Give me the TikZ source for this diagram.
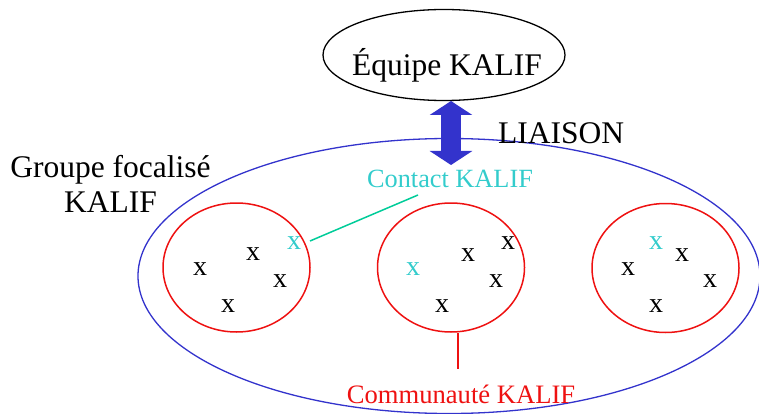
\documentclass[tikz,border=0pt]{standalone}
\usepackage{fontspec}
\setmainfont{Liberation Serif}
\usetikzlibrary{arrows.meta,shapes.geometric}
\definecolor{arrowblue}{HTML}{3333CC}
\definecolor{contactcyan}{HTML}{33CCCC}
\definecolor{linegreen}{HTML}{00CC99}
\definecolor{commred}{HTML}{EE1111}
\tikzset{
  member/.style={font=\fontsize{28}{28}\selectfont, inner sep=0pt},
  contactx/.style={member, text=contactcyan},
  community/.style={draw=commred, line width=1.5pt, ellipse, minimum width=147pt, minimum height=129pt, inner sep=0pt},
  bigtext/.style={font=\fontsize{31.5}{35}\selectfont, inner sep=0pt}
}
\begin{document}
\begin{tikzpicture}[x=1pt,y=-1pt]
\useasboundingbox (0,0) rectangle (759,414);
% focus group ellipse
\node[draw=arrowblue, line width=1.3pt, ellipse, minimum width=622pt, minimum height=275pt, inner sep=0pt] (group) at (449,276) {};
% team
\node[draw, line width=1.3pt, ellipse, minimum width=242pt, minimum height=91pt, inner sep=0pt] (team) at (444,55) {};
\node[bigtext, anchor=base] (teamlbl) at (447,76) {Équipe KALIF};
% liaison arrow
\coordinate (liaisonend) at (451,165);
\coordinate (liaisonstart) at (451,101);
\draw[arrowblue, line width=20pt, {Triangle[width=42pt,length=14pt]}-{Triangle[width=42pt,length=14pt]}] (liaisonstart) -- (liaisonend);
\node[bigtext, anchor=base west] (liaison) at (498,143) {LIAISON};
% group label
\node[bigtext, align=center, anchor=base] (grouplbl) at (110.5,212) {Groupe focalisé\\KALIF};
% communities
\node[community] (c1) at (236.5,267.5) {};
\node[community] (c2) at (451,267.5) {};
\node[community] (c3) at (665.5,268) {};
% members community 1
\node[contactx] (k1) at (294,243) {x};
\node[member] (a1) at (253,254) {x};
\node[member] (a2) at (200,269) {x};
\node[member] (a3) at (280,281) {x};
\node[member] (a4) at (228,306) {x};
% members community 2
\node[contactx] (k2) at (413,269) {x};
\node[member] (b1) at (442,306) {x};
\node[member] (b2) at (468,255) {x};
\node[member] (b3) at (508,243) {x};
\node[member] (b4) at (496,281) {x};
% members community 3
\node[contactx] (k3) at (656,243) {x};
\node[member] (d1) at (628,269) {x};
\node[member] (d2) at (682,255) {x};
\node[member] (d3) at (710,281) {x};
\node[member] (d4) at (656,306) {x};
% contact label
\node[font=\fontsize{26.3}{28}\selectfont, text=contactcyan, inner sep=0pt, anchor=base] (contactlbl) at (450,187) {Contact KALIF};
\coordinate (contactfoot) at (418,195);
\draw[linegreen, line width=1.5pt] (310,241) -- (contactfoot);
% community label
\node[font=\fontsize{26.6}{28}\selectfont, text=commred, inner sep=0pt, anchor=base] (commlbl) at (461,403) {Communauté KALIF};
\coordinate (commtop) at (458,369);
\draw[commred, line width=1.5pt] (c2.south -| commtop) -- (commtop);
\end{tikzpicture}
\end{document}
